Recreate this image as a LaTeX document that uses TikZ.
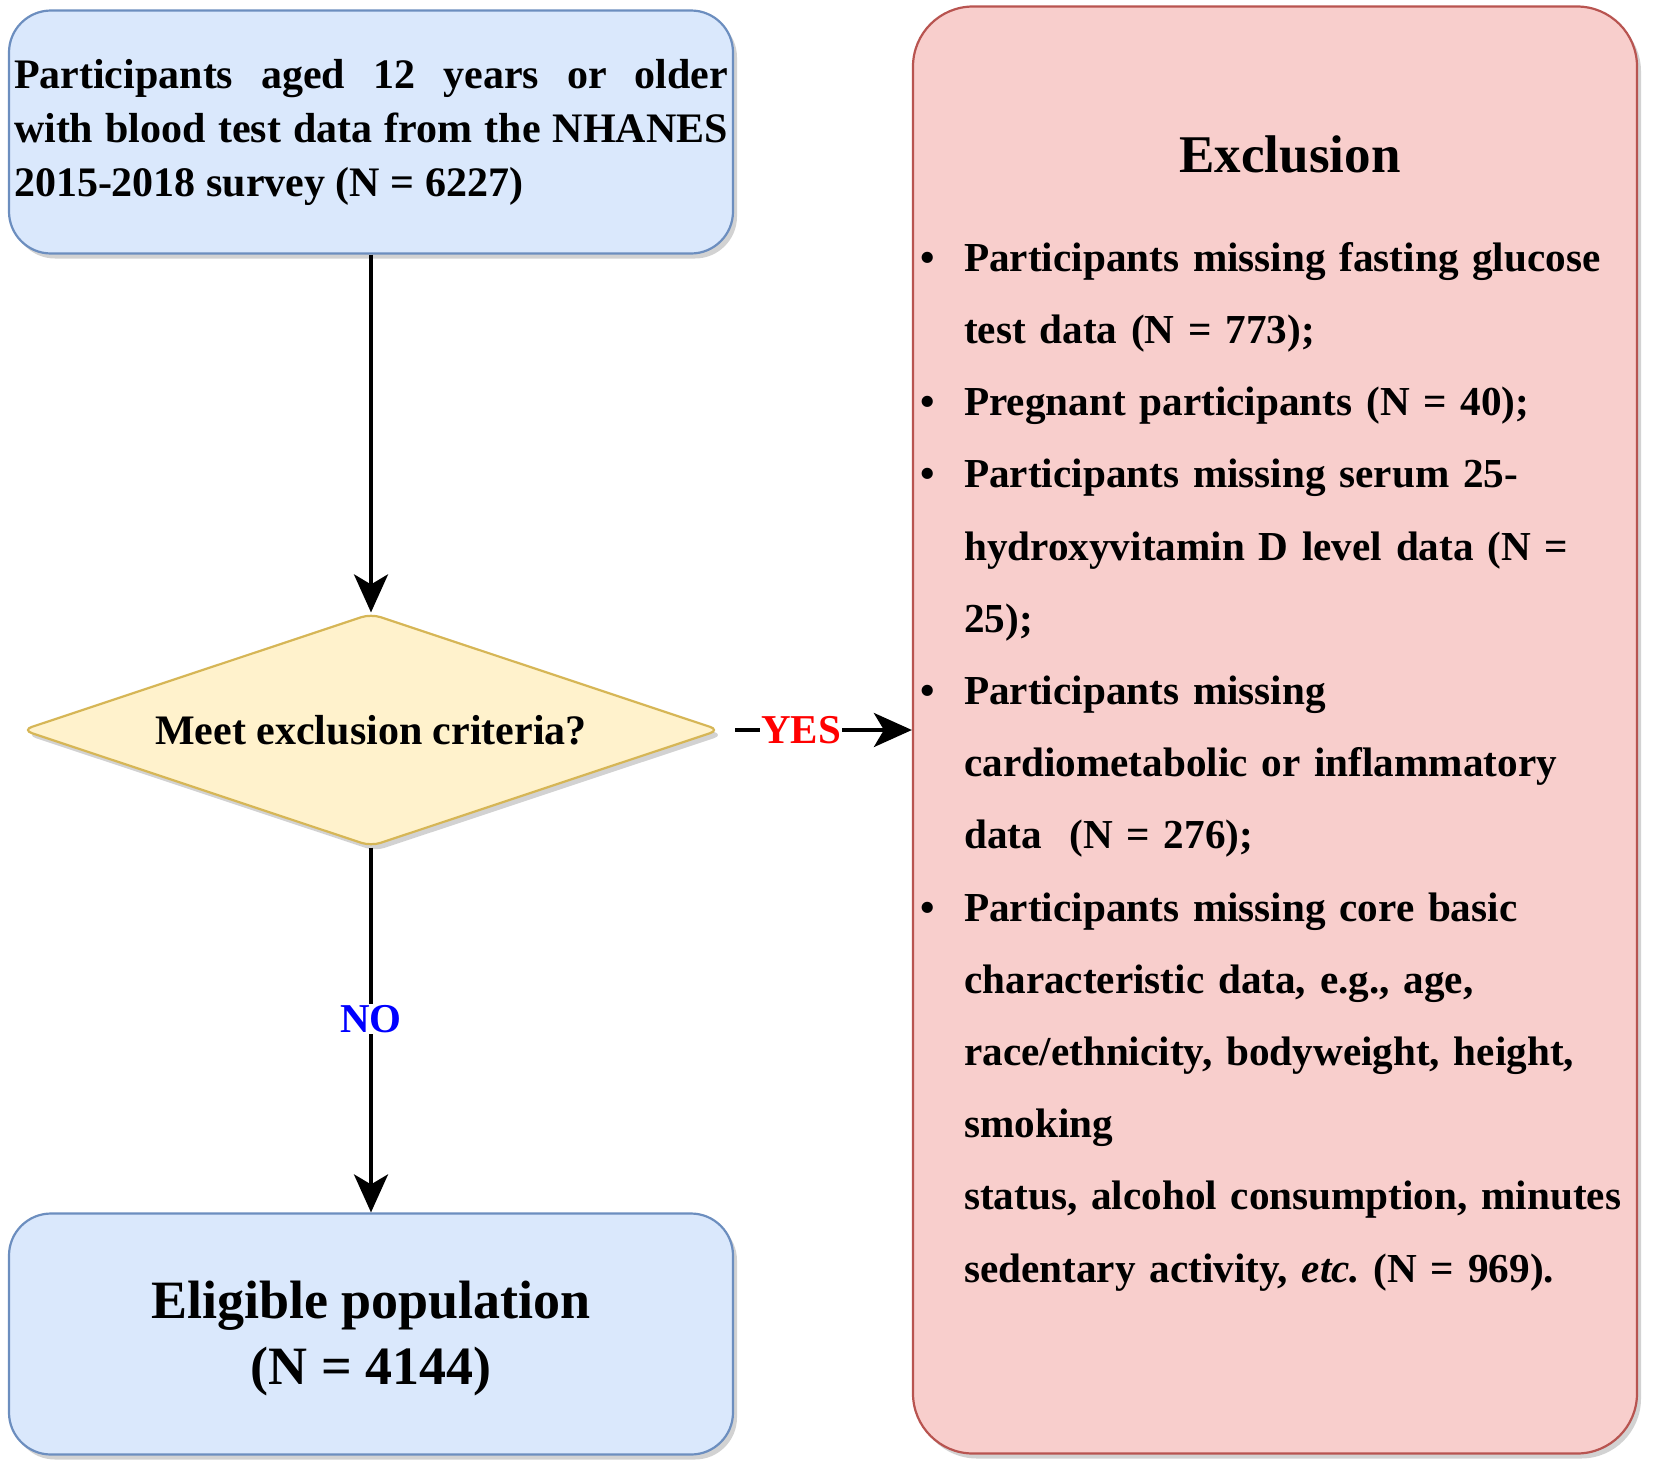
\documentclass[tikz,border=0pt]{standalone}
\usepackage{fontspec}
\setmainfont{Liberation Serif}
\usepackage{tikz}
\usetikzlibrary{shapes.geometric, arrows.meta, shadows}
\definecolor{fill-blue}{HTML}{DAE8FC}
\definecolor{line-blue}{HTML}{6C8EBF}
\definecolor{fill-yellow}{HTML}{FFF2CC}
\definecolor{line-yellow}{HTML}{D6B656}
\definecolor{fill-red}{HTML}{F8CECC}
\definecolor{line-red}{HTML}{B85450}
\newcommand{\exbullet}{\makebox[44pt][l]{\textbullet}}
\newcommand{\exindent}{\hspace*{44pt}}

\begin{document}
\begin{tikzpicture}[x=1pt, y=1pt,
 boxshadow/.style={drop shadow={shadow xshift=4pt, shadow yshift=-5pt, opacity=0.25, fill=black!70}},
 bluebox/.style={draw=line-blue, fill=fill-blue, line width=2.2pt, rounded corners=42pt, minimum width=724pt, inner sep=0pt, boxshadow},
 redbox/.style={draw=line-red, fill=fill-red, line width=2.2pt, rounded corners=60pt, inner sep=0pt, boxshadow},
 decision/.style={diamond, aspect=3, draw=line-yellow, fill=fill-yellow, line width=2.2pt, rounded corners=10pt, minimum width=698pt, minimum height=233pt, inner sep=0pt, boxshadow, font=\fontsize{42}{50}\selectfont\bfseries},
 flow/.style={line width=4pt, -{Stealth[length=38pt, width=34pt, inset=10pt]}},
 answer/.style={fill=white, inner sep=1pt, font=\fontsize{41}{48}\selectfont\bfseries}
]
 \useasboundingbox (0,0) rectangle (1654,-1476);
 %left column
 \node[bluebox, minimum height=243pt, text width=714pt, align=justify, font=\fontsize{42}{54}\selectfont\bfseries] (start) at (371,-132)
  {Participants aged 12 years or older\linebreak with blood test data from the NHANES\linebreak 2015-2018 survey (N = 6227)};
 \node[decision] (check) at (371,-730) {Meet exclusion criteria?};
 \node[bluebox, minimum height=241pt, text depth=3.3pt, align=center, font=\fontsize{54}{66}\selectfont\bfseries] (eligible) at (371,-1334)
  {Eligible population\\(N = 4144)};
 %exclusion list
 \node[redbox, minimum width=724pt, minimum height=1447pt] (excl) at (1275,-730) {};
 \node[anchor=base, font=\fontsize{53}{60}\selectfont\bfseries] (title) at (1290,-172) {Exclusion};
 \node[anchor=north west, inner sep=0pt, text width=720pt, align=left, font=\fontsize{41.2}{72.2}\selectfont\bfseries\frenchspacing] (items) at (920,-242)
  {\exbullet Participants missing fasting glucose\\
   \exindent test data (N = 773);\\
   \exbullet Pregnant participants (N = 40);\\
   \exbullet Participants missing serum 25-\\
   \exindent hydroxyvitamin D level data (N =\\
   \exindent 25);\\
   \exbullet Participants missing\\
   \exindent cardiometabolic or inflammatory\\
   \exindent data\ \ (N = 276);\\
   \exbullet Participants missing core basic\\
   \exindent characteristic data, e.g., age,\\
   \exindent race/ethnicity, bodyweight, height,\\
   \exindent smoking\\
   \exindent status, alcohol consumption, minutes\\
   \exindent sedentary activity, \textit{etc.} (N = 969).};
 %arrows
 \draw[flow] (start) -- (check);
 \draw[flow] (check) -- node[answer, text=blue, pos=0.47] (no) {NO} (eligible);
 \draw[flow, shorten <=14pt] (check) -- node[answer, text=red, pos=0.42] (yes) {YES} (excl);
\end{tikzpicture}
\end{document}
